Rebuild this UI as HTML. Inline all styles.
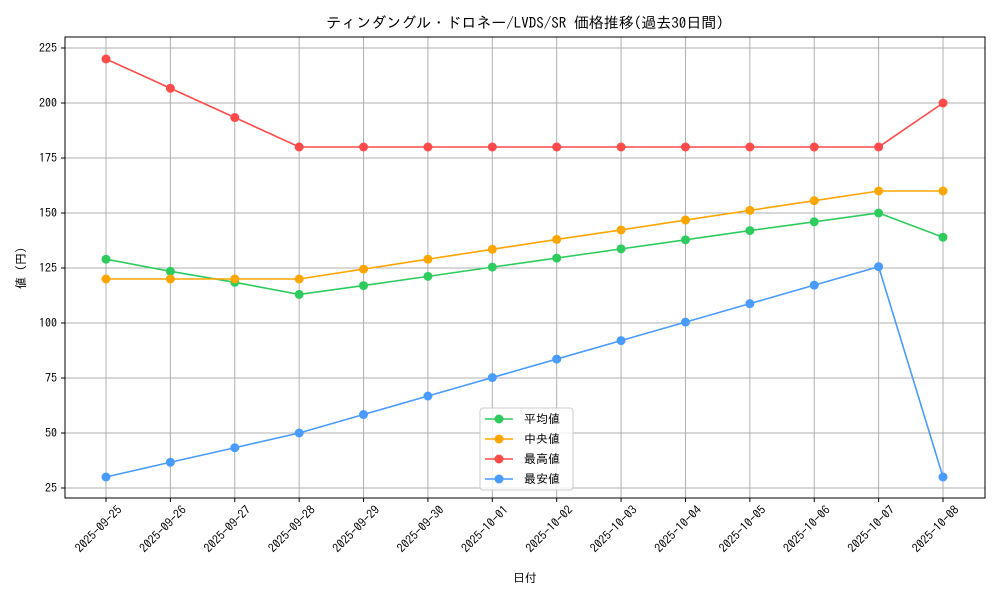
<!DOCTYPE html>
<html><head><meta charset="utf-8"><style>
html,body{margin:0;padding:0;background:#fff;}
svg text{font-family:"IPAGothic","Liberation Sans","Noto Sans CJK JP",sans-serif;fill:#000;}
</style></head><body>
<svg id="s" width="1000" height="600" xmlns="http://www.w3.org/2000/svg">
<rect x="0" y="0" width="1000" height="600" fill="#fff"/>
<text x="525" y="28" font-size="15" text-anchor="middle">ティンダングル・ドロネー/LVDS/SR 価格推移(過去30日間)</text>
<g id="grid"></g>
<rect x="65" y="37" width="920" height="461" fill="none" stroke="#000" stroke-width="1"/>
<g id="series"></g>
<text x="525" y="582" font-size="12" text-anchor="middle">日付</text>
<text transform="translate(25,268) rotate(-90)" font-size="12" text-anchor="middle">値 (円)</text>
<g id="leg"></g>
</svg>
<script>
const ns="http://www.w3.org/2000/svg";
function el(p,t,a,txt){const e=document.createElementNS(ns,t);for(const k in a)e.setAttribute(k,a[k]);if(txt!==undefined)e.textContent=txt;p.appendChild(e);return e;}
const X=i=>106+i*64.385, Y=v=>488-(v-25)*2.2;
const g=document.getElementById('grid');
const dates=["2025-09-25","2025-09-26","2025-09-27","2025-09-28","2025-09-29","2025-09-30","2025-10-01","2025-10-02","2025-10-03","2025-10-04","2025-10-05","2025-10-06","2025-10-07","2025-10-08"];
dates.forEach((d,i)=>{const x=X(i);el(g,'line',{x1:x,x2:x,y1:37,y2:498,stroke:'#b0b0b0','stroke-width':1});
el(g,'line',{x1:x,x2:x,y1:498,y2:502,stroke:'#000'});
el(g,'text',{transform:`translate(${x+11},505) rotate(-45)`,'font-size':12,'text-anchor':'end','dominant-baseline':'hanging'},d);});
for(let v=25;v<=225;v+=25){const y=Y(v);el(g,'line',{x1:65,x2:985,y1:y,y2:y,stroke:'#b0b0b0','stroke-width':1});
el(g,'line',{x1:61,x2:65,y1:y,y2:y,stroke:'#000'});
el(g,'text',{x:57,y:y+4,'font-size':12,'text-anchor':'end'},v);}
const S=[
["平均値","#2ecc5f",[129,123.5,118.5,113,117,121.2,125.4,129.5,133.7,137.8,142,146,150,139]],
["中央値","#ffa500",[120,120,120,120,124.5,129,133.5,138,142.3,146.8,151.2,155.6,160,160]],
["最高値","#ff4a4a",[220,206.7,193.4,180,180,180,180,180,180,180,180,180,180,200]],
["最安値","#4a9bff",[30,36.7,43.3,50,58.4,66.8,75.2,83.6,92,100.4,108.8,117.2,125.6,30]]];
const sg=document.getElementById('series'),lg=document.getElementById('leg');
el(lg,'rect',{x:480,y:408,width:93,height:82,fill:'#fff','fill-opacity':0.8,stroke:'#ccc',rx:3});
S.forEach((s,k)=>{el(sg,'polyline',{points:s[2].map((v,i)=>X(i)+','+Y(v)).join(' '),fill:'none',stroke:s[1],'stroke-width':1.6});
s[2].forEach((v,i)=>el(sg,'circle',{cx:X(i),cy:Y(v),r:4.5,fill:s[1]}));
const y=419+k*20;el(lg,'line',{x1:485,x2:513,y1:y,y2:y,stroke:s[1],'stroke-width':1.6});
el(lg,'circle',{cx:499,cy:y,r:4.5,fill:s[1]});
el(lg,'text',{x:524,y:y+4,'font-size':12},s[0]);});
</script>
</body></html>
